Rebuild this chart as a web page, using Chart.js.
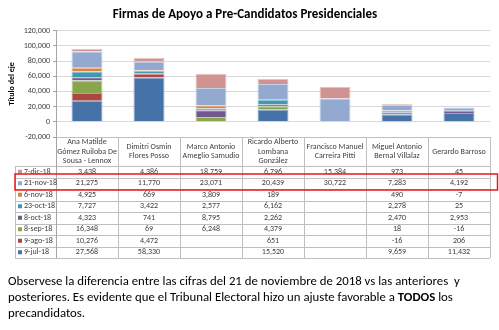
<!DOCTYPE html>
<html>
<head>
<meta charset="utf-8">
<script src="https://cdn.jsdelivr.net/npm/chart.js@4"></script>
<style>
  html, body { margin: 0; padding: 0; background: #fff; }
  #wrap { position: relative; width: 499px; height: 330px; overflow: hidden; }
  #note {
    position: absolute; left: 8px; top: 273px; width: 495px;
    font-family: Carlito, Lato, sans-serif; font-size: 12.8px; line-height: 16px;
    color: #000; white-space: nowrap;
  }
</style>
</head>
<body>
<div id="wrap">
  <canvas id="firmas" width="499" height="330"></canvas>
  <div id="note">
    Observese la diferencia entre las cifras del 21 de noviembre de 2018 vs las anteriores &nbsp;y<br>
    posteriores. Es evidente que el Tribunal Electoral hizo un ajuste favorable a <b>TODOS</b> los<br>
    precandidatos.
  </div>
</div>
<script>
// ===== Data =====
const candidates = [
  ["Ana Matilde", "Gómez Ruiloba De", "Sousa - Lennox"],
  ["Dimitri Osmin", "Flores Posso"],
  ["Marco Antonio", "Ameglio Samudio"],
  ["Ricardo Alberto", "Lombana", "González"],
  ["Francisco Manuel", "Carreira Pitti"],
  ["Miguel Antonio", "Bernal Villalaz"],
  ["Gerardo Barroso"],
];

// cortes (bottom of the stack first)
const jul9 = [27568, 58330, null, 15520, null, 9659, 11432];
const ago9 = [10276, 4472, null, 651, null, -16, 206];
const sep8 = [16348, 69, 6248, 4379, null, 18, -16];
const oct8 = [4323, 741, 8795, 2262, null, 2470, 2953];
const oct23 = [7727, 3422, 2577, 6162, null, 2278, 25];
const nov6 = [4925, 669, 3809, 189, null, 490, -7];
const nov21 = [21275, 11770, 23071, 20439, 30722, 7283, 4192];
const dic7 = [3438, 4386, 18759, 6796, 15384, 973, 45];

const series = [
  { label: "9-jul-18", data: jul9, color: "#4572A7", edge: "#8FAAD0" },
  { label: "9-ago-18", data: ago9, color: "#AA4643", edge: "#D39391" },
  { label: "8-sep-18", data: sep8, color: "#89A54E", edge: "#BDD19A" },
  { label: "8-oct-18", data: oct8, color: "#71588F", edge: "#AC9CC3" },
  { label: "23-oct-18", data: oct23, color: "#4198AF", edge: "#90C8D8" },
  { label: "6-nov-18", data: nov6, color: "#DB843D", edge: "#EFBC91" },
  { label: "21-nov-18", data: nov21, color: "#93A9CF", edge: "#C5D2E8" },
  { label: "7-dic-18", data: dic7, color: "#D19392", edge: "#E8C4C3" },
];

const highlightRow = "21-nov-18";
const FONT = "Carlito, Lato, sans-serif";

// ===== Data table under the plot =====
const dataTable = {
  id: "dataTable",
  afterDraw(chart) {
    const ctx = chart.ctx;
    const area = chart.chartArea;
    const n = candidates.length;
    const colW = (area.right - area.left) / n;
    const top = area.bottom;
    const headH = 29;
    const rowH = 11.5;
    const keyLeft = 15;
    const rows = series.slice().reverse();
    const bottom = top + headH + rowH * rows.length;

    ctx.save();
    ctx.strokeStyle = "#BFBFBF";
    ctx.lineWidth = 1;
    ctx.beginPath();
    // header box
    ctx.moveTo(area.left, top + 0.5);
    ctx.lineTo(area.right, top + 0.5);
    for (let i = 0; i <= n; i++) {
      const x = Math.round(area.left + i * colW) + 0.5;
      ctx.moveTo(x, top);
      ctx.lineTo(x, bottom);
    }
    // row lines
    for (let r = 0; r <= rows.length; r++) {
      const y = Math.round(top + headH + r * rowH) + 0.5;
      ctx.moveTo(keyLeft, y);
      ctx.lineTo(area.right, y);
    }
    ctx.moveTo(keyLeft + 0.5, top + headH);
    ctx.lineTo(keyLeft + 0.5, bottom);
    ctx.stroke();

    // axis line continues down through the table
    ctx.strokeStyle = "#A6A6A6";
    ctx.beginPath();
    ctx.moveTo(Math.round(area.left) + 0.5, top);
    ctx.lineTo(Math.round(area.left) + 0.5, bottom);
    ctx.stroke();

    ctx.fillStyle = "#404040";
    ctx.font = "8px " + FONT;
    ctx.textAlign = "center";
    ctx.textBaseline = "middle";

    // candidate names
    candidates.forEach((lines, i) => {
      const cx = area.left + (i + 0.5) * colW;
      const lh = 9.5;
      const y0 = top + headH / 2 - ((lines.length - 1) * lh) / 2;
      lines.forEach((t, k) => ctx.fillText(t, cx, y0 + k * lh));
    });

    // values
    rows.forEach((s, r) => {
      const cy = top + headH + (r + 0.5) * rowH;
      s.data.forEach((v, i) => {
        if (v === null) return;
        const cx = area.left + (i + 0.5) * colW;
        ctx.fillText(v.toLocaleString("en-US"), cx, cy);
      });
      ctx.fillStyle = s.color;
      ctx.fillRect(keyLeft + 3, cy - 2, 4, 4);
      ctx.fillStyle = "#404040";
      ctx.textAlign = "left";
      ctx.fillText(s.label, keyLeft + 9, cy);
      ctx.textAlign = "center";
    });

    // red frame around the 21-nov row
    const hi = rows.findIndex((s) => s.label === highlightRow);
    const hy = top + headH + hi * rowH;
    ctx.strokeStyle = "#E8181B";
    ctx.lineWidth = 1.5;
    ctx.strokeRect(15, hy - 3.5, chart.width - 16.5, rowH + 4.5);
    ctx.restore();
  },
};

// ===== Chart =====
new Chart(document.getElementById("firmas"), {
  type: "bar",
  data: {
    labels: candidates.map((c) => c.join(" ")),
    datasets: series.map((s) => ({
      label: s.label,
      data: s.data,
      backgroundColor: s.color,
      borderColor: s.edge,
      borderWidth: 1,
      categoryPercentage: 1,
      barPercentage: 0.5,
    })),
  },
  plugins: [dataTable],
  options: {
    responsive: false,
    animation: false,
    layout: { padding: { left: 0, right: 9, top: 0, bottom: 193 } },
    plugins: {
      legend: { display: false },
      tooltip: { enabled: false },
      title: {
        display: true,
        text: "Firmas de Apoyo a Pre-Candidatos Presidenciales",
        color: "#000",
        font: { family: FONT, size: 13, weight: "bold" },
        padding: { top: 7, bottom: 8 },
      },
    },
    scales: {
      x: { stacked: true, display: false },
      y: {
        stacked: true,
        min: -20000,
        max: 120000,
        afterFit: (s) => { s.width = 56; },
        ticks: {
          stepSize: 20000,
          color: "#404040",
          padding: 3,
          font: { family: FONT, size: 8 },
          callback: (v) => v.toLocaleString("en-US"),
        },
        grid: { color: "#D9D9D9", tickColor: "#A6A6A6", tickLength: 3 },
        border: { color: "#A6A6A6" },
        title: {
          display: true,
          text: "Título del eje",
          color: "#000",
          font: { family: FONT, size: 8, weight: "bold" },
          padding: { top: 7, bottom: 0 },
        },
      },
    },
  },
});
</script>
</body>
</html>
